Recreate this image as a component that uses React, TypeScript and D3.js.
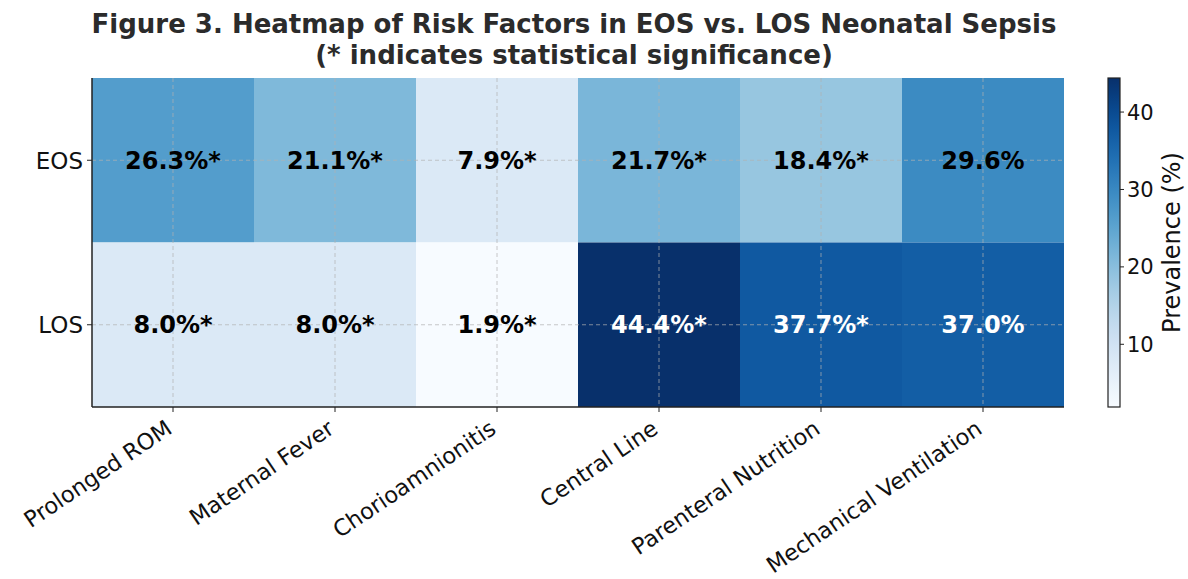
import React from "react";
import * as d3 from "d3";

const factors = ["Prolonged ROM", "Maternal Fever", "Chorioamnionitis", "Central Line", "Parenteral Nutrition", "Mechanical Ventilation"];
const groups = ["EOS", "LOS"];
const eosValues = [26.3, 21.1, 7.9, 21.7, 18.4, 29.6];
const losValues = [8.0, 8.0, 1.9, 44.4, 37.7, 37.0];
const eosSignificant = [true, true, true, true, true, false];
const losSignificant = [true, true, true, true, true, false];
const colorbarTicks = [10, 20, 30, 40];
const titleLines = ["Figure 3. Heatmap of Risk Factors in EOS vs. LOS Neonatal Sepsis", "(* indicates statistical significance)"];

const W = 1188, H = 579;
const plot = { left: 92, right: 1064, top: 78, bottom: 407 };
const cb = { left: 1108, right: 1120 };
const font = "'DejaVu Sans', sans-serif";

export default function App() {
  const values = [eosValues, losValues];
  const sig = [eosSignificant, losSignificant];
  const all = [...eosValues, ...losValues];
  const vmin = d3.min(all)!, vmax = d3.max(all)!;
  const color = d3.scaleSequential(d3.interpolateBlues).domain([vmin, vmax]);
  const x = d3.scaleBand().domain(factors).range([plot.left, plot.right]);
  const y = d3.scaleBand().domain(groups).range([plot.top, plot.bottom]);
  const cy = d3.scaleLinear().domain([vmin, vmax]).range([plot.bottom, plot.top]);
  const stops = d3.range(0, 1.0001, 0.05);
  const xFont = 22.5;

  return (
    <svg width={W} height={H} style={{ position: "absolute", left: 0, top: 0, background: "#fff" }} fontFamily={font}>
      <defs>
        <linearGradient id="cbgrad" x1="0" y1="1" x2="0" y2="0">
          {stops.map((t) => (
            <stop key={t} offset={t} stopColor={d3.interpolateBlues(t)} />
          ))}
        </linearGradient>
      </defs>
      {titleLines.map((t, i) => (
        <text key={i} x={574} y={33 + i * 31} textAnchor="middle" fontSize={26} fontWeight="bold" fill="#2b2b2b">
          {t}
        </text>
      ))}
      {groups.map((g, r) =>
        factors.map((f, c) => (
          <rect key={g + f} x={x(f)} y={y(g)} width={x.bandwidth()} height={y.bandwidth()} fill={color(values[r][c])} />
        ))
      )}
      {/* grid */}
      {factors.map((f) => (
        <line key={"gx" + f} x1={x(f)! + x.bandwidth() / 2} x2={x(f)! + x.bandwidth() / 2} y1={plot.top} y2={plot.bottom}
          stroke="#b0b0b0" strokeOpacity={0.7} strokeDasharray="4,3" strokeWidth={1} />
      ))}
      {groups.map((g) => (
        <line key={"gy" + g} y1={y(g)! + y.bandwidth() / 2} y2={y(g)! + y.bandwidth() / 2} x1={plot.left} x2={plot.right}
          stroke="#b0b0b0" strokeOpacity={0.7} strokeDasharray="4,3" strokeWidth={1} />
      ))}
      {groups.map((g, r) =>
        factors.map((f, c) => {
          const v = values[r][c];
          return (
            <text key={"t" + g + f} x={x(f)! + x.bandwidth() / 2} y={y(g)! + y.bandwidth() / 2} dy="0.36em"
              textAnchor="middle" fontSize={24} fontWeight="bold" fill={v > 33 ? "#fff" : "#000"}>
              {v.toFixed(1) + "%" + (sig[r][c] ? "*" : "")}
            </text>
          );
        })
      )}
      {/* spines */}
      <line x1={plot.left} x2={plot.left} y1={plot.top} y2={plot.bottom} stroke="#222" strokeWidth={1.5} />
      <line x1={plot.left} x2={plot.right} y1={plot.bottom} y2={plot.bottom} stroke="#222" strokeWidth={1.5} />
      {/* y ticks */}
      {groups.map((g) => {
        const yy = y(g)! + y.bandwidth() / 2;
        return (
          <g key={"yt" + g}>
            <line x1={plot.left - 5} x2={plot.left} y1={yy} y2={yy} stroke="#222" />
            <text x={plot.left - 9} y={yy} dy="0.36em" textAnchor="end" fontSize={23} fill="#111">{g}</text>
          </g>
        );
      })}
      {/* x ticks */}
      {factors.map((f) => {
        const xx = x(f)! + x.bandwidth() / 2;
        return (
          <g key={"xt" + f}>
            <line x1={xx} x2={xx} y1={plot.bottom} y2={plot.bottom + 5} stroke="#222" />
            <text transform={`translate(${xx - 9},${plot.bottom + 11}) rotate(-34)`} textAnchor="end" y={xFont * 0.76} fontSize={xFont} fill="#111">{f}</text>
          </g>
        );
      })}
      {/* colorbar */}
      <rect x={cb.left} y={plot.top} width={cb.right - cb.left} height={plot.bottom - plot.top} fill="url(#cbgrad)" stroke="#222" strokeWidth={1.2} />
      {colorbarTicks.map((t) => (
        <g key={"cb" + t}>
          <line x1={cb.right} x2={cb.right + 4} y1={cy(t)} y2={cy(t)} stroke="#222" />
          <text x={cb.right + 7} y={cy(t)} dy="0.36em" fontSize={21} fill="#111">{t}</text>
        </g>
      ))}
      <text transform={`translate(1180,${(plot.top + plot.bottom) / 2}) rotate(-90)`} textAnchor="middle" fontSize={24} fill="#111">Prevalence (%)</text>
    </svg>
  );
}
